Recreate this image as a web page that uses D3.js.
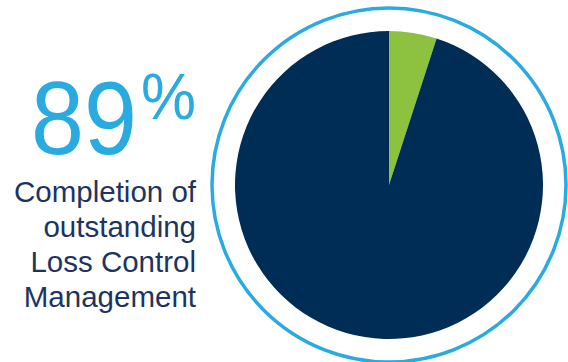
<!DOCTYPE html>
<html>
<head>
<meta charset="utf-8">
<script src="https://cdn.jsdelivr.net/npm/d3@7"></script>
<style>
  html, body { margin: 0; padding: 0; background: #fff; overflow: hidden; }
  svg { display: block; }
  text { font-family: Arial, "Liberation Sans", Helvetica, sans-serif; }
</style>
</head>
<body>
<div id="chart"></div>
<script>
  // data
  var labels = ["Outstanding", "Completed"];
  var values = [5, 95];
  var colors = ["#8cc23f", "#002d56"];
  var headline = "89";
  var captionLines = ["Completion of", "outstanding", "Loss Control", "Management"];

  var width = 568, height = 362;
  var cx = 389, cy = 185, r = 154, ringR = 177;

  var svg = d3.select("#chart").append("svg")
      .attr("width", width)
      .attr("height", height);

  // outer ring
  svg.append("circle")
      .attr("cx", cx).attr("cy", cy).attr("r", ringR)
      .attr("fill", "none")
      .attr("stroke", "#29abe2")
      .attr("stroke-width", 3.5);

  var pie = d3.pie().sort(null).value(function(d) { return d; });
  var arc = d3.arc().innerRadius(0).outerRadius(r);

  svg.append("g")
      .attr("transform", "translate(" + cx + "," + cy + ")")
    .selectAll("path")
      .data(pie(values))
      .enter().append("path")
      .attr("d", arc)
      .attr("fill", function(d, i) { return colors[i]; })
      .append("title").text(function(d, i) { return labels[i]; });

  // big number (glyphs in the original are a bit narrower than Liberation)
  svg.append("text")
      .attr("x", 31).attr("y", 154)
      .attr("font-size", 103)
      .attr("textLength", 106)
      .attr("lengthAdjust", "spacingAndGlyphs")
      .attr("fill", "#29abe2")
      .text(headline);

  svg.append("text")
      .attr("x", 141).attr("y", 119)
      .attr("font-size", 64)
      .attr("textLength", 55)
      .attr("lengthAdjust", "spacingAndGlyphs")
      .attr("fill", "#29abe2")
      .text("%");

  // caption
  svg.append("g").selectAll("text")
      .data(captionLines)
      .enter().append("text")
      .attr("x", 196)
      .attr("y", function(d, i) { return 202 + i * 35; })
      .attr("text-anchor", "end")
      .attr("font-size", 29.5)
      .attr("fill", "#1d3461")
      .text(function(d) { return d; });
</script>
</body>
</html>
